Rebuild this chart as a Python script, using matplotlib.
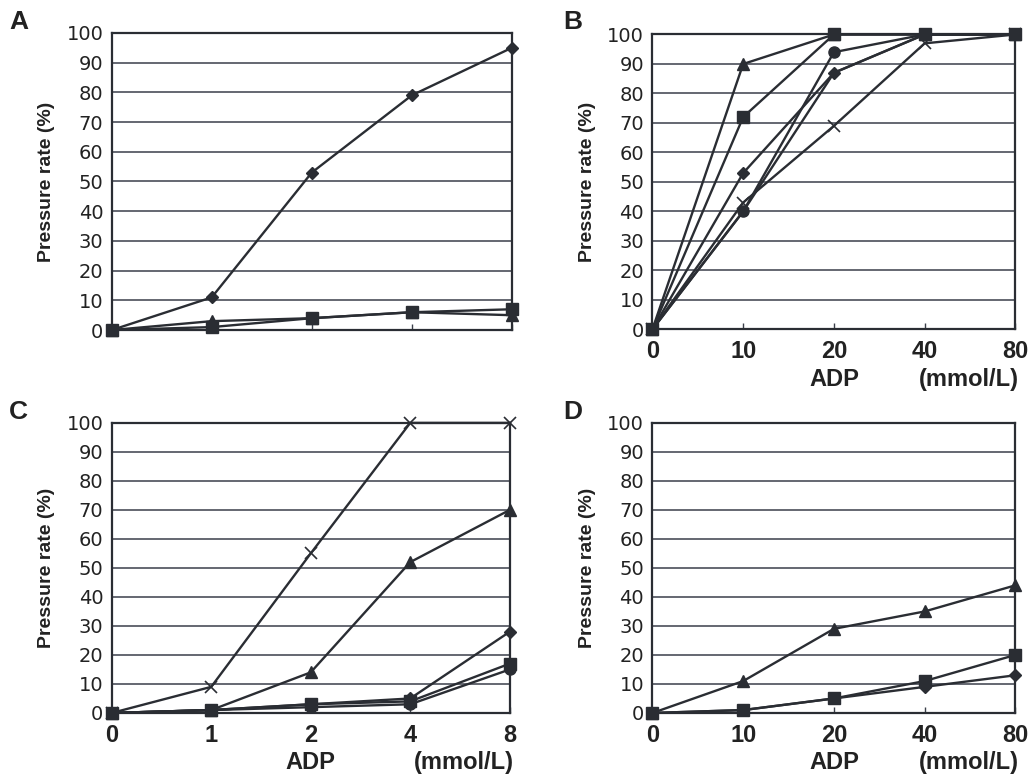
import numpy as np
import matplotlib.pyplot as plt

plt.rcParams['font.family'] = ['Liberation Sans', 'DejaVu Sans']

# x categories (shown equally spaced)
adp_b = ['0', '10', '20', '40', '80']
adp_c = ['0', '1', '2', '4', '8']

# panel A (no x tick labels)
a_diamond = [0, 11, 53, 79, 95]
a_square = [0, 1, 4, 6, 7]
a_triangle = [0, 3, 4, 6, 5]

# panel B
b_triangle = [0, 90, 100, 100, 100]
b_square = [0, 72, 100, 100, 100]
b_diamond = [0, 53, 87, 100, 100]
b_circle = [0, 40, 94, 100, 100]
b_cross = [0, 43, 69, 97, 100]
b_star = [0, 40, 87, 100, 100]

# panel C
c_cross = [0, 9, 55, 100, 100]
c_triangle = [0, 1, 14, 52, 70]
c_diamond = [0, 1, 3, 5, 28]
c_square = [0, 1, 3, 4, 17]
c_circle = [0, 1, 2, 3, 15]

# panel D
d_triangle = [0, 11, 29, 35, 44]
d_square = [0, 1, 5, 11, 20]
d_diamond = [0, 1, 5, 9, 13]

line_c = '#2a2d33'
grid_c = '#3a3f4a'
text_c = '#222222'

fig = plt.figure(figsize=(10.34, 7.84), dpi=100)
ax_a = fig.add_axes([0.108, 0.579, 0.387, 0.379])
ax_b = fig.add_axes([0.631, 0.580, 0.351, 0.376])
ax_c = fig.add_axes([0.108, 0.0906, 0.385, 0.370])
ax_d = fig.add_axes([0.631, 0.0906, 0.351, 0.370])

styles = {
    'diamond': dict(marker='D', ms=6),
    'square': dict(marker='s', ms=8),
    'triangle': dict(marker='^', ms=8),
    'circle': dict(marker='o', ms=8),
    'cross': dict(marker='x', ms=9, mew=1.2),
    'star': dict(marker='*', ms=6),
}


def draw(ax, series, xt, xlabels):
    x = np.arange(5)
    for kind, vals in series:
        ax.plot(x, vals, color=line_c, lw=1.7, mfc=line_c, mec=line_c,
                clip_on=False, zorder=3, **styles[kind])
    ax.set_xlim(0, 4)
    ax.set_ylim(0, 100)
    ax.set_yticks(range(0, 101, 10))
    ax.set_yticklabels([str(v) for v in range(0, 101, 10)],
                       family='DejaVu Sans', fontsize=14, color=text_c)
    ax.yaxis.grid(True, color=grid_c, lw=1.1)
    ax.set_axisbelow(True)
    ax.set_xticks(x)
    ax.tick_params(axis='y', length=0, pad=6)
    ax.tick_params(axis='x', length=4, direction='in', width=1, color=grid_c)
    if xlabels:
        ax.set_xticklabels(xt, fontsize=17, fontweight='bold', color=text_c)
        ax.tick_params(axis='x', pad=8)
    else:
        ax.set_xticklabels([])
    for s in ax.spines.values():
        s.set_color(line_c)
        s.set_linewidth(1.6)
    ax.set_ylabel('Pressure rate (%)', fontsize=14, fontweight='bold',
                  color=text_c, labelpad=8)


draw(ax_a, [('diamond', a_diamond), ('triangle', a_triangle), ('square', a_square)],
     adp_c, False)
draw(ax_b, [('triangle', b_triangle), ('square', b_square), ('diamond', b_diamond),
            ('circle', b_circle), ('star', b_star), ('cross', b_cross)],
     adp_b, True)
draw(ax_c, [('cross', c_cross), ('triangle', c_triangle), ('diamond', c_diamond),
            ('circle', c_circle), ('square', c_square)],
     adp_c, True)
draw(ax_d, [('triangle', d_triangle), ('diamond', d_diamond), ('square', d_square)],
     adp_b, True)

for ax in (ax_b, ax_c, ax_d):
    ax.text(0.5, -0.17, 'ADP', transform=ax.transAxes, ha='center', va='center',
            fontsize=17, fontweight='bold', color=text_c)
    ax.text(1.01, -0.17, '(mmol/L)', transform=ax.transAxes, ha='right', va='center',
            fontsize=17, fontweight='bold', color=text_c)

for lab, (xf, yf) in zip('ABCD', [(0.009, 0.972), (0.545, 0.972), (0.009, 0.474), (0.545, 0.474)]):
    fig.text(xf, yf, lab, fontsize=19, fontweight='bold', color=text_c,
             ha='left', va='center')

fig.savefig('out.png', dpi=100)
